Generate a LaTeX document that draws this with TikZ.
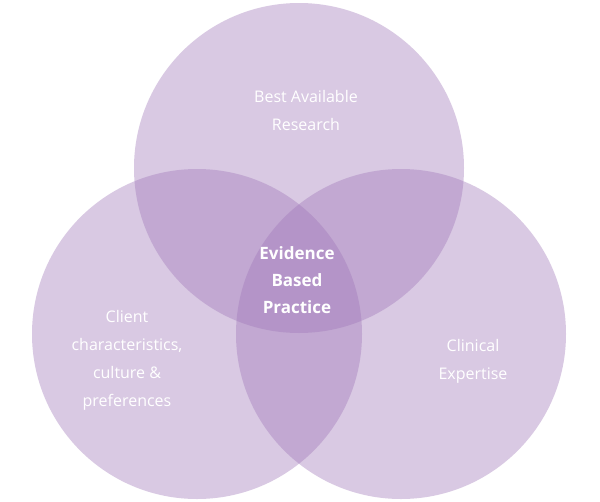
\documentclass[tikz,border=0pt]{standalone}
\usepackage{fontspec}
\setmainfont{Open Sans}
\begin{document}
\begin{tikzpicture}[x=1pt,y=-1pt,
  circ/.style={fill={rgb,255:red,160;green,120;blue,185},fill opacity=0.4,draw=none},
  lbl/.style={text=white,font=\fontsize{16}{28}\selectfont,align=center},
  mid/.style={text=white,font=\fontsize{17}{27}\selectfont\bfseries,align=center}]
\useasboundingbox (0,0) rectangle (600,501);
\fill[white] (0,0) rectangle (600,501);
\path[circ] (299,168) circle (165);
\path[circ] (197,334) circle (165);
\path[circ] (401,334) circle (165);
\node[lbl] (a) at (306,110) {Best Available\\Research};
\node[lbl] (b) at (127,360) {Client\\characteristics,\\culture \&\\preferences};
\node[lbl] (c) at (473,361) {Clinical\\Expertise};
\node[mid] (d) at (297,280) {Evidence\\Based\\Practice};
\end{tikzpicture}
\end{document}
